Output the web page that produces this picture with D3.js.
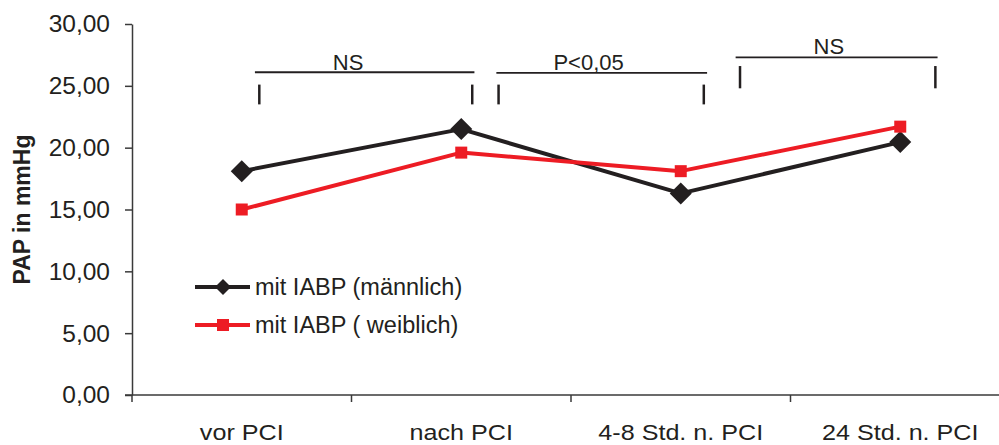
<!DOCTYPE html>
<html>
<head>
<title>PAP</title>
<meta charset="utf-8">
<style type="text/css">
body { margin: 0; background: #fff; font-family: "Liberation Sans", Arial, sans-serif; overflow: hidden; }
svg { display: block; }
svg text { fill: #231f20; }
</style>
</head>
<body>
<svg id="chart"></svg>

<script src="https://d3js.org/d3.v7.min.js"></script>
<script type="text/javascript">
const WIDTH = 999;
const HEIGHT = 445;
const MARGIN = {top: 24, right: -11, bottom: 50, left: 132};

const CATEGORIES = ["vor PCI", "nach PCI", "4-8 Std. n. PCI", "24 Std. n. PCI"];
const MALE = [18.1, 21.5, 16.3, 20.45];
const FEMALE = [15.0, 19.6, 18.1, 21.7];
const Y_TICKS = [0, 5, 10, 15, 20, 25, 30];
const SERIES_NAMES = ["mit IABP (männlich)", "mit IABP ( weiblich)"];

// significance brackets, in category-index / data units
const BRACKETS = [
    {label: "NS", textX: 0.415, textY: 26.3, x0: 0.06, x1: 1.06, y: 26.1, t0: 0.08, t1: 1.05, tTop: 25.1, tBot: 23.5},
    {label: "P<0,05", textX: 1.42, textY: 26.3, x0: 1.16, x1: 2.12, y: 26.05, t0: 1.17, t1: 2.105, tTop: 25.1, tBot: 23.5},
    {label: "NS", textX: 2.605, textY: 27.55, x0: 2.25, x1: 3.17, y: 27.3, t0: 2.27, t1: 3.16, tTop: 26.6, tBot: 24.8}
];

const BLACK = "#231f20";
const RED = "#ed1c24";
const AXIS = "#3a3a3a";

const svg = d3.select("#chart")
    .attr("width", WIDTH)
    .attr("height", HEIGHT);

const x = d3.scaleBand()
    .domain(CATEGORIES)
    .range([MARGIN.left, WIDTH - MARGIN.right]);

// continuous position by category index (band centers)
const xi = d3.scaleLinear()
    .domain([0, 1])
    .range([x(CATEGORIES[0]) + x.bandwidth() / 2, x(CATEGORIES[1]) + x.bandwidth() / 2]);

const y = d3.scaleLinear()
    .domain([0, 30])
    .range([HEIGHT - MARGIN.bottom, MARGIN.top]);

const fmt = v => d3.format(".2f")(v).replace(".", ",");

// y axis
const yAxis = svg.append("g")
    .attr("transform", `translate(${MARGIN.left},0)`)
    .call(d3.axisLeft(y).tickValues(Y_TICKS).tickFormat(fmt).tickSize(7).tickPadding(15).tickSizeOuter(0));
yAxis.select(".domain").attr("stroke", AXIS).attr("stroke-width", 1.5);
yAxis.selectAll(".tick line").attr("stroke", AXIS).attr("stroke-width", 1.5);
yAxis.selectAll(".tick text")
    .attr("font-family", "Liberation Sans, Arial, sans-serif")
    .attr("font-size", 24.5)
    .attr("fill", BLACK);

// x axis
const base = y(0);
svg.append("line")
    .attr("x1", MARGIN.left - 7).attr("x2", WIDTH)
    .attr("y1", base).attr("y2", base)
    .attr("stroke", AXIS).attr("stroke-width", 1.5);
svg.selectAll(".xtick")
    .data(CATEGORIES)
    .join("line")
    .attr("class", "xtick")
    .attr("x1", d => x(d)).attr("x2", d => x(d))
    .attr("y1", base).attr("y2", base + 7)
    .attr("stroke", AXIS).attr("stroke-width", 1.5);
// labels are a little wider than tall in the source, so stretch horizontally
svg.selectAll(".xlabel")
    .data(CATEGORIES)
    .join("text")
    .attr("class", "xlabel")
    .attr("transform", d => `translate(${x(d) + x.bandwidth() / 2},440) scale(1.17,1)`)
    .attr("text-anchor", "middle")
    .attr("font-size", 21.5)
    .text(d => d);

// y title
svg.append("text")
    .attr("transform", `translate(30,${(y(0) + y(30)) / 2}) rotate(-90)`)
    .attr("text-anchor", "middle")
    .attr("font-size", 23)
    .attr("font-weight", "bold")
    .text("PAP in mmHg");

// brackets
BRACKETS.forEach(b => {
    const g = svg.append("g").attr("stroke", BLACK);
    g.append("line")
        .attr("x1", xi(b.x0)).attr("x2", xi(b.x1))
        .attr("y1", y(b.y)).attr("y2", y(b.y))
        .attr("stroke-width", 1.8);
    [b.t0, b.t1].forEach(t => {
        g.append("line")
            .attr("x1", xi(t)).attr("x2", xi(t))
            .attr("y1", y(b.tTop)).attr("y2", y(b.tBot))
            .attr("stroke-width", 2.5);
    });
    svg.append("text")
        .attr("x", xi(b.textX))
        .attr("y", y(b.textY))
        .attr("font-size", 22)
        .text(b.label);
});

// series
const line = d3.line()
    .x((d, i) => x(CATEGORIES[i]) + x.bandwidth() / 2)
    .y(d => y(d));

const diamond = s => `M0,${-s}L${s},0L0,${s}L${-s},0Z`;

function drawSeries(values, color, marker) {
    svg.append("path").datum(values)
        .attr("fill", "none")
        .attr("stroke", color)
        .attr("stroke-width", 4)
        .attr("stroke-linejoin", "round")
        .attr("d", line);
    const pts = svg.append("g").selectAll("g")
        .data(values)
        .join("g")
        .attr("transform", (d, i) => `translate(${x(CATEGORIES[i]) + x.bandwidth() / 2},${y(d)})`);
    if (marker === "diamond") {
        pts.append("path").attr("d", diamond(11)).attr("fill", color);
    } else {
        pts.append("rect").attr("x", -6).attr("y", -6).attr("width", 12).attr("height", 12).attr("fill", color);
    }
}

drawSeries(MALE, BLACK, "diamond");
drawSeries(FEMALE, RED, "square");

// legend
const legend = svg.append("g").attr("transform", "translate(195,287)");
[[BLACK, "diamond"], [RED, "square"]].forEach(([color, marker], i) => {
    const row = legend.append("g").attr("transform", `translate(0,${i * 38})`);
    row.append("line")
        .attr("x1", 0).attr("x2", 55)
        .attr("stroke", color).attr("stroke-width", 4);
    if (marker === "diamond") {
        row.append("path").attr("d", diamond(8)).attr("transform", "translate(28,0)").attr("fill", color);
    } else {
        row.append("rect").attr("x", 22).attr("y", -6).attr("width", 12).attr("height", 12).attr("fill", color);
    }
    row.append("text")
        .attr("x", 60)
        .attr("dy", "0.35em")
        .attr("font-size", 23.5)
        .text(SERIES_NAMES[i]);
});
</script>
</body>
</html>
